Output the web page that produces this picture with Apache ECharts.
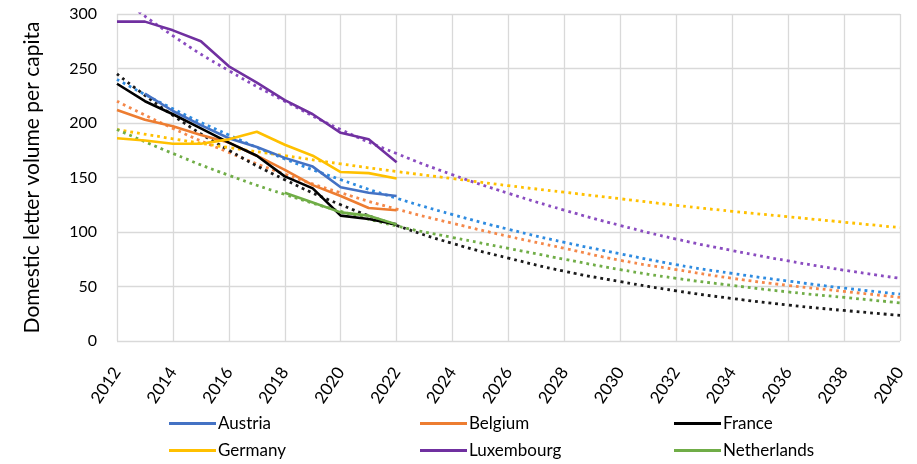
<!DOCTYPE html>
<html>
<head>
<meta charset="utf-8">
<script src="https://cdn.jsdelivr.net/npm/echarts@6/dist/echarts.min.js"></script>
<style>
html,body{margin:0;padding:0;background:#fff;}
#chart{width:917px;height:464px;}
</style>
</head>
<body>
<div id="chart"></div>
<script>
// ---- data ----
const countries = ['Austria', 'Belgium', 'France', 'Germany', 'Luxembourg', 'Netherlands'];

// observed values (year, value)
const austriaYears = [2013, 2014, 2015, 2016, 2017, 2018, 2019, 2020, 2021, 2022];
const austriaValues = [227, 211, 198, 186, 178, 168, 160, 141, 136, 133];

const belgiumYears = [2012, 2013, 2014, 2015, 2016, 2017, 2018, 2019, 2020, 2021, 2022];
const belgiumValues = [212, 203, 197, 189, 182, 170, 157, 143, 133, 122, 120];

const franceYears = [2012, 2013, 2014, 2015, 2016, 2017, 2018, 2019, 2020, 2021, 2022];
const franceValues = [236, 220, 208, 195, 182, 170, 151, 140, 115, 112, 107];

const germanyYears = [2012, 2013, 2014, 2015, 2016, 2017, 2018, 2019, 2020, 2021, 2022];
const germanyValues = [186, 184, 181, 181, 185, 192, 180, 170, 155, 154, 149];

const luxembourgYears = [2012, 2013, 2014, 2015, 2016, 2017, 2018, 2019, 2020, 2021, 2022];
const luxembourgValues = [293, 293, 285, 275, 252, 237, 221, 208, 191, 185, 164];

const netherlandsYears = [2018, 2019, 2020, 2021, 2022];
const netherlandsValues = [136, 127, 118, 115, 107];

// trend lines (read every two years)
const trendYears = [2012, 2014, 2016, 2018, 2020, 2022, 2024, 2026, 2028, 2030, 2032, 2034, 2036, 2038, 2040];
const austriaTrend = [240, 213, 189, 167, 148, 131, 116, 102.5, 90.5, 80, 70, 62, 55, 48.5, 43];
const belgiumTrend = [220, 195, 173, 153, 136, 121, 108, 96, 85, 74, 65.5, 57.5, 51, 45.5, 40];
const franceTrend = [245, 207, 175, 148, 125, 106, 89.5, 76, 64, 54.5, 46, 39, 33, 28, 23.5];
const germanyTrend = [194, 185.5, 177.5, 170, 162.5, 155.5, 149, 142.5, 136.5, 130.5, 124.5, 119, 114, 109, 104];
const luxembourgTrend = [317, 280, 248, 220, 194, 172, 152.5, 135.5, 120, 106, 93.5, 83, 73.5, 65, 57.5];
const netherlandsTrend = [194, 172, 152, 134.5, 119, 105.5, 95, 85, 75, 65.5, 57.5, 51, 45, 40, 35];

const xTickLabels = [2012, 2014, 2016, 2018, 2020, 2022, 2024, 2026, 2028, 2030, 2032, 2034, 2036, 2038, 2040];
const yTickLabels = [0, 50, 100, 150, 200, 250, 300];

const solidColors = ['#4472C4', '#ED7D31', '#000000', '#FFC000', '#7030A0', '#70AD47'];
const trendColors = ['#2E8BE0', '#F4884A', '#1A1A1A', '#FFC000', '#8A4CC0', '#70AD47'];

// ---- build ----
const pairs = (xs, ys) => xs.map((x, i) => [x, ys[i]]);
const obs = [
  pairs(austriaYears, austriaValues),
  pairs(belgiumYears, belgiumValues),
  pairs(franceYears, franceValues),
  pairs(germanyYears, germanyValues),
  pairs(luxembourgYears, luxembourgValues),
  pairs(netherlandsYears, netherlandsValues)
];
const trends = [austriaTrend, belgiumTrend, franceTrend, germanyTrend, luxembourgTrend, netherlandsTrend]
  .map(t => pairs(trendYears, t));

const FONT = 'Lato, "Open Sans", sans-serif';
const series = [];
countries.forEach((c, i) => {
  series.push({
    name: c + ' trend',
    type: 'line',
    data: trends[i],
    smooth: true,
    symbol: 'none',
    clip: true,
    z: 2,
    lineStyle: { color: trendColors[i], width: 2.8, type: [2.8, 4], cap: 'butt' }
  });
});
countries.forEach((c, i) => {
  series.push({
    name: c,
    type: 'line',
    data: obs[i],
    symbol: 'none',
    clip: true,
    z: 3,
    color: solidColors[i],
    lineStyle: { color: solidColors[i], width: 2.6 }
  });
});

const legendPos = [
  { left: 169, top: 415 }, { left: 420, top: 415 }, { left: 674, top: 415 },
  { left: 169, top: 442 }, { left: 420, top: 442 }, { left: 674, top: 442 }
];
const legends = countries.map((c, i) => ({
  data: [c],
  left: legendPos[i].left,
  top: legendPos[i].top,
  icon: 'rect',
  itemWidth: 47,
  itemHeight: 3,
  padding: 0,
  selectedMode: false,
  textStyle: { fontFamily: FONT, fontSize: 17, color: '#000', padding: [0, 0, 0, -3] }
}));

const chart = echarts.init(document.getElementById('chart'), null, { renderer: 'canvas' });
chart.setOption({
  animation: false,
  backgroundColor: '#fff',
  grid: { left: 117, right: 17, top: 14, bottom: 123, containLabel: false },
  legend: legends,
  xAxis: {
    type: 'value',
    min: 2012,
    max: 2040,
    interval: 2,
    axisLine: { show: false },
    axisTick: { show: false },
    splitLine: { show: true, lineStyle: { color: '#D9D9D9', width: 1.3 } },
    axisLabel: {
      rotate: 56,
      fontFamily: FONT,
      fontSize: 17,
      color: '#000',
      margin: 28,
      formatter: v => xTickLabels.includes(v) ? String(v) : ''
    }
  },
  yAxis: {
    type: 'value',
    min: 0,
    max: 300,
    interval: 50,
    name: 'Domestic letter volume per capita',
    nameLocation: 'middle',
    nameGap: 74,
    nameTextStyle: { fontFamily: FONT, fontSize: 21, color: '#000' },
    axisLine: { show: false },
    axisTick: { show: false },
    splitLine: { show: true, lineStyle: { color: '#D9D9D9', width: 1.3 } },
    axisLabel: {
      fontFamily: FONT,
      fontSize: 16,
      color: '#000',
      margin: 20,
      formatter: v => yTickLabels.includes(v) ? String(v) : ''
    }
  },
  series: series
});
</script>
</body>
</html>
